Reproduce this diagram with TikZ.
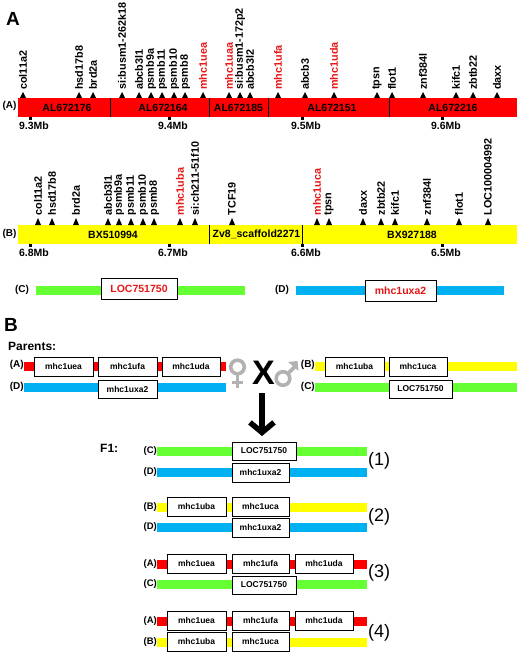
\documentclass[tikz,border=0pt]{standalone}
\usepackage{fontspec}
\setmainfont{Liberation Sans}
\usetikzlibrary{arrows.meta}
\definecolor{barred}{RGB}{255,0,0}
\definecolor{baryellow}{RGB}{255,255,0}
\definecolor{bargreen}{RGB}{102,255,51}
\definecolor{barblue}{RGB}{0,176,240}
\definecolor{genered}{RGB}{232,22,22}
\begin{document}
\begin{tikzpicture}[x=1pt,y=-1pt,
  gname/.style={rotate=90,anchor=west,inner sep=0pt,font=\fontsize{10.8}{12}\selectfont\bfseries},
  clone/.style={inner sep=0pt,font=\fontsize{10.5}{12}\selectfont\bfseries},
  tag/.style={inner sep=0pt,font=\fontsize{10}{12}\selectfont\bfseries},
  ftag/.style={inner sep=0pt,anchor=east,font=\fontsize{9.5}{11}\selectfont\bfseries},
  gbox/.style={draw=black,fill=white,line width=0.8pt,minimum height=19pt,inner sep=0pt,font=\fontsize{8.5}{10}\selectfont\bfseries},
  rbox/.style={gbox,minimum height=21pt,text=genered,font=\fontsize{10.5}{12}\selectfont\bfseries},
  panel/.style={inner sep=0pt,anchor=west,font=\fontsize{19}{22}\selectfont\bfseries},
  head/.style={inner sep=0pt,anchor=west,font=\fontsize{12}{14}\selectfont\bfseries},
  pair/.style={inner sep=0pt,font=\fontsize{18}{20}\selectfont},
  sex/.style={draw=gray!60,line width=3.6pt}]
\useasboundingbox (0,0) rectangle (520,668);
% panel A, chromosome 19 (red)
\node[panel] (pa) at (6,19) {A};
\fill[barred] (18,98) rectangle (517,117);
\foreach \d in {110,209,268,389} \draw[line width=0.8pt] (\d,98) -- (\d,117);
\node[tag] (ta) at (9.5,105.5) {(A)};
\node[clone] (ca1) at (67,108) {AL672176};
\node[clone] (ca2) at (163,108) {AL672164};
\node[clone] (ca3) at (238.5,108) {AL672185};
\node[clone] (ca4) at (332,108) {AL672151};
\node[clone] (ca5) at (453,108) {AL672216};
\foreach \x/\g/\c in {23/col11a2/black,79/hsd17b8/black,93/brd2a/black,122/si:busm1-262k18/black,
  139/abcb3l1/black,151/psmb9a/black,162/psmb11/black,174/psmb10/black,185/psmb8/black,
  203/mhc1uea/genered,229/mhc1uaa/genered,240/si:busm1-172p2/black,250/abcb3l2/black,
  278/mhc1ufa/genered,305/abcb3/black,334/mhc1uda/genered,377/tpsn/black,392/flot1/black,
  423/znf384l/black,456/kifc1/black,473/zbtb22/black,497/daxx/black}{
  \fill (\x-3,98) -- (\x+3,98) -- (\x,92) -- cycle;
  \node[gname,text=\c] (ga\x) at (\x,90) {\g};
}
\foreach \x/\m in {30/9.3,169/9.4,302/9.5,442/9.6}{
  \fill (\x-1.5,117) rectangle (\x+1.5,120);
  \node[clone] (ma\x) at (\x+4,126) {\m Mb};
}
% panel B, chromosome 22 (yellow)
\fill[baryellow] (18,225) rectangle (517,244);
\foreach \d in {209,302} \draw[line width=0.8pt] (\d,225) -- (\d,244);
\node[tag] (tb) at (9.5,233.5) {(B)};
\node[clone] (cb1) at (113,234.5) {BX510994};
\node[clone] (cb2) at (256.5,234.5) {Zv8\_scaffold2271};
\node[clone] (cb3) at (412,234.5) {BX927188};
\foreach \x/\g/\c in {38/col11a2/black,52/hsd17b8/black,76/brd2a/black,108/abcb3l1/black,
  119/psmb9a/black,131/psmb11/black,143/psmb10/black,154/psmb8/black,180/mhc1uba/genered,
  195/si:ch211-51f10/black,232/TCF19/black,317/mhc1uca/genered,329/tpsn/black,363/daxx/black,
  381/zbtb22/black,395/kifc1/black,427/znf384l/black,459/flot1/black,488/LOC100004992/black}{
  \fill (\x-3,225) -- (\x+3,225) -- (\x,218) -- cycle;
  \node[gname,text=\c] (gb\x) at (\x,215.5) {\g};
}
\foreach \x/\m in {30/6.8,169/6.7,302/6.6,442/6.5}{
  \fill (\x-1.5,244) rectangle (\x+1.5,247);
  \node[clone] (mb\x) at (\x+4,252.5) {\m Mb};
}
% panels C and D
\node[tag] (tc) at (22,290) {(C)};
\fill[bargreen] (36,286) rectangle (245,294.5);
\node[rbox,minimum width=76pt] (loc) at (139,288.5) {LOC751750};
\node[tag] (td) at (282,290) {(D)};
\fill[barblue] (296,286) rectangle (504,294.5);
\node[rbox,minimum width=71pt] (uxa) at (400.5,290.5) {mhc1uxa2};
% B: the cross
\node[panel] (pb) at (4,325) {B};
\node[head] (par) at (8,346) {Parents:};
\node[ftag,font=\fontsize{10}{12}\selectfont\bfseries] (pta) at (24,365) {(A)};
\fill[barred] (24,361.5) rectangle (226,370.5);
\node[gbox,minimum width=59pt] (pa1) at (63.5,366.5) {mhc1uea};
\node[gbox,minimum width=59pt] (pa2) at (127.5,366.5) {mhc1ufa};
\node[gbox,minimum width=58pt] (pa3) at (191,366.5) {mhc1uda};
\node[ftag,font=\fontsize{10}{12}\selectfont\bfseries] (ptd) at (24,387) {(D)};
\fill[barblue] (24,383) rectangle (226,392);
\node[gbox,minimum width=59pt,minimum height=18pt] (pd1) at (127.5,389) {mhc1uxa2};
% female and male signs
\draw[sex] (237.5,367) circle (6.8);
\draw[sex] (237.5,375) -- (237.5,388) (232,382.5) -- (243,382.5);
\node[inner sep=0pt,font=\fontsize{34}{34}\selectfont\bfseries] (cx) at (263.5,372.5) {X};
\draw[sex] (283,378.5) circle (6.8);
\draw[sex] (288,373.5) -- (295,366.5);
\fill[gray!60] (297.5,361) -- (298.5,371) -- (288,362) -- cycle;
\node[ftag,font=\fontsize{10}{12}\selectfont\bfseries] (ptb) at (315,365) {(B)};
\fill[baryellow] (315,361.5) rectangle (517,370.5);
\node[gbox,minimum width=59pt] (pb1) at (354.5,366.5) {mhc1uba};
\node[gbox,minimum width=58pt] (pb2) at (418,366.5) {mhc1uca};
\node[ftag,font=\fontsize{10}{12}\selectfont\bfseries] (ptc) at (315,387) {(C)};
\fill[bargreen] (315,383) rectangle (517,392);
\node[gbox,minimum width=63pt,minimum height=18pt] (pc1) at (420.5,389) {LOC751750};
\coordinate (down) at (262,393);
\coordinate (f1in) at (262,436);
\draw[line width=5.5pt,-{Straight Barb[length=10pt,width=24pt]}] (down) -- (f1in);
% F1 offspring
\node[head] (f1) at (100,448) {F1:};
\node[ftag] (t1c) at (157,451) {(C)};
\fill[bargreen] (157,447) rectangle (367,455.5);
\node[gbox,minimum width=64pt,minimum height=18pt] (o1c) at (264,451) {LOC751750};
\node[ftag] (t1d) at (157,472) {(D)};
\fill[barblue] (157,468) rectangle (367,476.5);
\node[gbox,minimum width=57pt] (o1d) at (260.5,472.5) {mhc1uxa2};
\node[pair] (n1) at (379,461) {(1)};
\node[ftag] (t2b) at (157,507) {(B)};
\fill[baryellow] (157,503) rectangle (367,511.5);
\node[gbox,minimum width=59pt] (o2b1) at (196.5,506.5) {mhc1uba};
\node[gbox,minimum width=57pt] (o2b2) at (260.5,506.5) {mhc1uca};
\node[ftag] (t2d) at (157,527) {(D)};
\fill[barblue] (157,523) rectangle (367,531.5);
\node[gbox,minimum width=57pt] (o2d) at (260.5,527.5) {mhc1uxa2};
\node[pair] (n2) at (379,517) {(2)};
\node[ftag] (t3a) at (157,564) {(A)};
\fill[barred] (157,560) rectangle (367,569);
\node[gbox,minimum width=59pt] (o3a1) at (196.5,563.5) {mhc1uea};
\node[gbox,minimum width=57pt] (o3a2) at (260.5,563.5) {mhc1ufa};
\node[gbox,minimum width=58pt] (o3a3) at (324,563.5) {mhc1uda};
\node[ftag] (t3c) at (157,584) {(C)};
\fill[bargreen] (157,580) rectangle (367,588.5);
\node[gbox,minimum width=64pt,minimum height=18pt] (o3c) at (264,585) {LOC751750};
\node[pair] (n3) at (379,573) {(3)};
\node[ftag] (t4a) at (157,621) {(A)};
\fill[barred] (157,617) rectangle (367,626);
\node[gbox,minimum width=59pt] (o4a1) at (196.5,620.5) {mhc1uea};
\node[gbox,minimum width=57pt] (o4a2) at (260.5,620.5) {mhc1ufa};
\node[gbox,minimum width=58pt] (o4a3) at (324,620.5) {mhc1uda};
\node[ftag] (t4b) at (157,642) {(B)};
\fill[baryellow] (157,638) rectangle (367,646.5);
\node[gbox,minimum width=59pt] (o4b1) at (196.5,641.5) {mhc1uba};
\node[gbox,minimum width=57pt] (o4b2) at (260.5,641.5) {mhc1uca};
\node[pair] (n4) at (379,633) {(4)};
\end{tikzpicture}
\end{document}
